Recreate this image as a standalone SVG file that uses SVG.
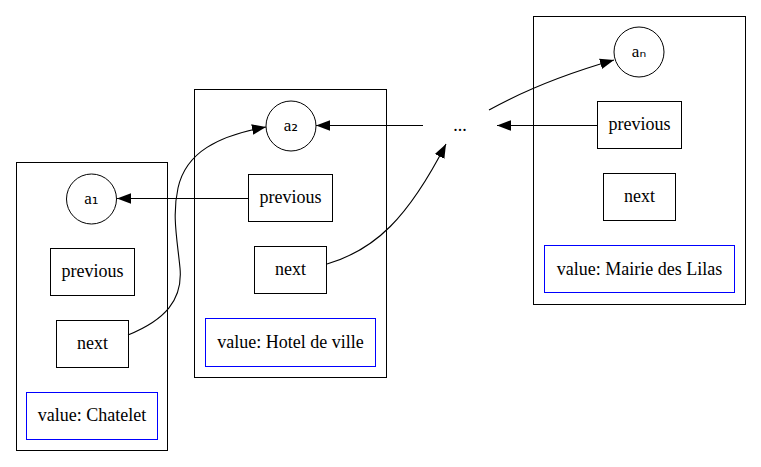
<svg xmlns="http://www.w3.org/2000/svg" width="761" height="467" viewBox="0 0 761 467">
<style>
.cl{fill:none;stroke:#000;stroke-width:1}
.bx{fill:#fff;stroke:#000;stroke-width:1}
.vb{fill:#fff;stroke:#0000ff;stroke-width:1}
.ci{fill:#fff;stroke:#000;stroke-width:1}
text{font-family:"Liberation Serif","DejaVu Serif",serif;font-size:18px;fill:#000;text-anchor:middle}
.lb{font-size:17px}
.sb{font-family:"DejaVu Sans",sans-serif;font-size:17px}
.ed{fill:none;stroke:#000;stroke-width:1.1}
</style>
<defs>
<marker id="ah" viewBox="0 0 10 10" refX="10" refY="5" markerWidth="14" markerHeight="14" markerUnits="userSpaceOnUse" orient="auto">
<path d="M0,1.2 L10,5 L0,8.8 Z" fill="#000"/>
</marker>
</defs>
<rect width="761" height="467" fill="#fff"/>
<g id="cluster1">
<rect class="cl" x="16.5" y="162.5" width="151" height="288"/>
</g>
<g id="cluster2">
<rect class="cl" x="194.5" y="89.5" width="192" height="288"/>
</g>
<g id="cluster3">
<rect class="cl" x="533.5" y="16.5" width="212" height="288"/>
</g>
<g id="a1">
<circle class="ci" cx="91.5" cy="199" r="25"/>
<text class="lb" x="91.5" y="204">a<tspan class="sb">₁</tspan></text>
</g>
<g id="prev1">
<rect class="bx" x="50.5" y="248.5" width="84" height="47"/>
<text x="92.5" y="277">previous</text>
</g>
<g id="next1">
<rect class="bx" x="56.5" y="320.5" width="72" height="47"/>
<text x="92.5" y="349">next</text>
</g>
<g id="value1">
<rect class="vb" x="26.5" y="392.5" width="131" height="47"/>
<text x="92" y="421">value: Chatelet</text>
</g>
<g id="a2">
<circle class="ci" cx="291" cy="126" r="25"/>
<text class="lb" x="291" y="131">a<tspan class="sb">₂</tspan></text>
</g>
<g id="prev2">
<rect class="bx" x="248.5" y="174.5" width="84" height="47"/>
<text x="290.5" y="203">previous</text>
</g>
<g id="next2">
<rect class="bx" x="254.5" y="246.5" width="72" height="47"/>
<text x="290.5" y="275">next</text>
</g>
<g id="value2">
<rect class="vb" x="205.5" y="318.5" width="170" height="48"/>
<text x="290.5" y="348">value: Hotel de ville</text>
</g>
<g id="dots">
<text x="460" y="131">...</text>
</g>
<g id="an">
<circle class="ci" cx="639" cy="52" r="25"/>
<text class="lb" x="639" y="57">a<tspan class="sb">ₙ</tspan></text>
</g>
<g id="prevn">
<rect class="bx" x="597.5" y="101.5" width="84" height="47"/>
<text x="639.5" y="130">previous</text>
</g>
<g id="nextn">
<rect class="bx" x="603.5" y="173.5" width="72" height="47"/>
<text x="639.5" y="202">next</text>
</g>
<g id="valuen">
<rect class="vb" x="544.5" y="245.5" width="190" height="47"/>
<text x="639.5" y="275">value: Mairie des Lilas</text>
</g>
<g id="connectors">
<path class="ed" d="M248,198.5 L117,198.5" marker-end="url(#ah)"/>
<path class="ed" d="M128,335 C165,320 183,300 180,268 C177,238 172,215 178,188 C186,152 218,136 266,127" marker-end="url(#ah)"/>
<path class="ed" d="M597,125.5 L497,125.5" marker-end="url(#ah)"/>
<path class="ed" d="M423,125.5 L316,125.5" marker-end="url(#ah)"/>
<path class="ed" d="M327,264 C375,250 408,218 446,144" marker-end="url(#ah)"/>
<path class="ed" d="M489,110 C525,90 565,74 614,60" marker-end="url(#ah)"/>
</g>
</svg>
